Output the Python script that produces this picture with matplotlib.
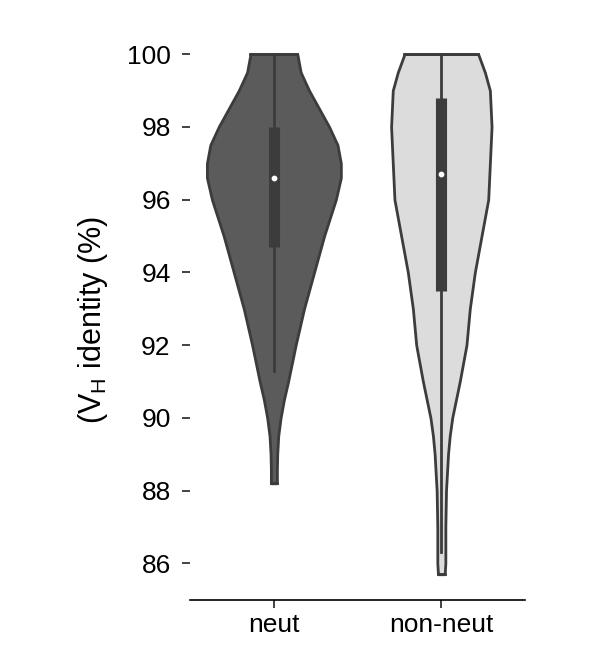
import numpy as np
import matplotlib.pyplot as plt

plt.rcParams['font.family'] = ['Liberation Sans', 'DejaVu Sans']

categories = ['neut', 'non-neut']
fills = ['#5b5b5b', '#dcdcdc']

# violin outlines: y level and half-width (category units)
neut_y = [88.2, 88.6, 89.0, 89.5, 90.0, 90.5, 91.0, 92.0, 93.0, 94.0, 95.0, 96.0, 96.6, 97.0, 97.5, 98.0, 98.5, 99.0, 99.5, 100.0]
neut_w = [0.018, 0.018, 0.02, 0.026, 0.04, 0.06, 0.085, 0.13, 0.18, 0.24, 0.30, 0.37, 0.40, 0.40, 0.38, 0.33, 0.27, 0.21, 0.16, 0.14]
nn_y = [85.7, 86.0, 87.0, 88.0, 89.0, 89.5, 90.0, 91.0, 92.0, 93.0, 94.0, 95.0, 96.0, 97.0, 98.0, 99.0, 99.5, 100.0]
nn_w = [0.02, 0.024, 0.024, 0.028, 0.04, 0.05, 0.065, 0.11, 0.15, 0.17, 0.20, 0.24, 0.28, 0.29, 0.30, 0.29, 0.26, 0.22]

# box stats: whisker low, q1, median, q3, whisker high
neut_box = [91.3, 94.7, 96.6, 98.0, 100.0]
nn_box = [86.3, 93.5, 96.7, 98.8, 100.0]

fig, ax = plt.subplots(figsize=(5.98, 6.59), dpi=100)
fig.subplots_adjust(left=0.318, right=0.878, top=0.94, bottom=0.09)

for i, (ys, ws, box) in enumerate([(neut_y, neut_w, neut_box), (nn_y, nn_w, nn_box)]):
    ys = np.array(ys); ws = np.array(ws)
    ax.fill_betweenx(ys, i - ws, i + ws, facecolor=fills[i], edgecolor='#3c3c3c', lw=2, zorder=1)
    ax.plot([i - ws[0], i + ws[0]], [ys[0], ys[0]], color='#3c3c3c', lw=2)
    ax.plot([i - ws[-1], i + ws[-1]], [ys[-1], ys[-1]], color='#3c3c3c', lw=2)
    ax.plot([i, i], [box[0], box[4]], color='#3c3c3c', lw=2, zorder=2)
    ax.plot([i, i], [box[1], box[3]], color='#3c3c3c', lw=8, solid_capstyle='butt', zorder=3)
    ax.scatter([i], [box[2]], s=10, color='white', zorder=4)

ax.set_xlim(-0.5, 1.5)
ax.set_ylim(85, 100.4)
ax.set_yticks([86, 88, 90, 92, 94, 96, 98, 100])
ax.set_xticks([0, 1])
ax.set_xticklabels(categories)
ax.tick_params(labelsize=19, length=6, width=1.2, color='#222222')
ax.tick_params(axis='y', pad=8)
ax.spines[['top', 'right', 'left']].set_visible(False)
ax.spines['bottom'].set_linewidth(1.2)
ax.set_ylabel('(V$_\\mathregular{H}$ identity (%)', fontsize=22, labelpad=12)

fig.savefig('out.png')
